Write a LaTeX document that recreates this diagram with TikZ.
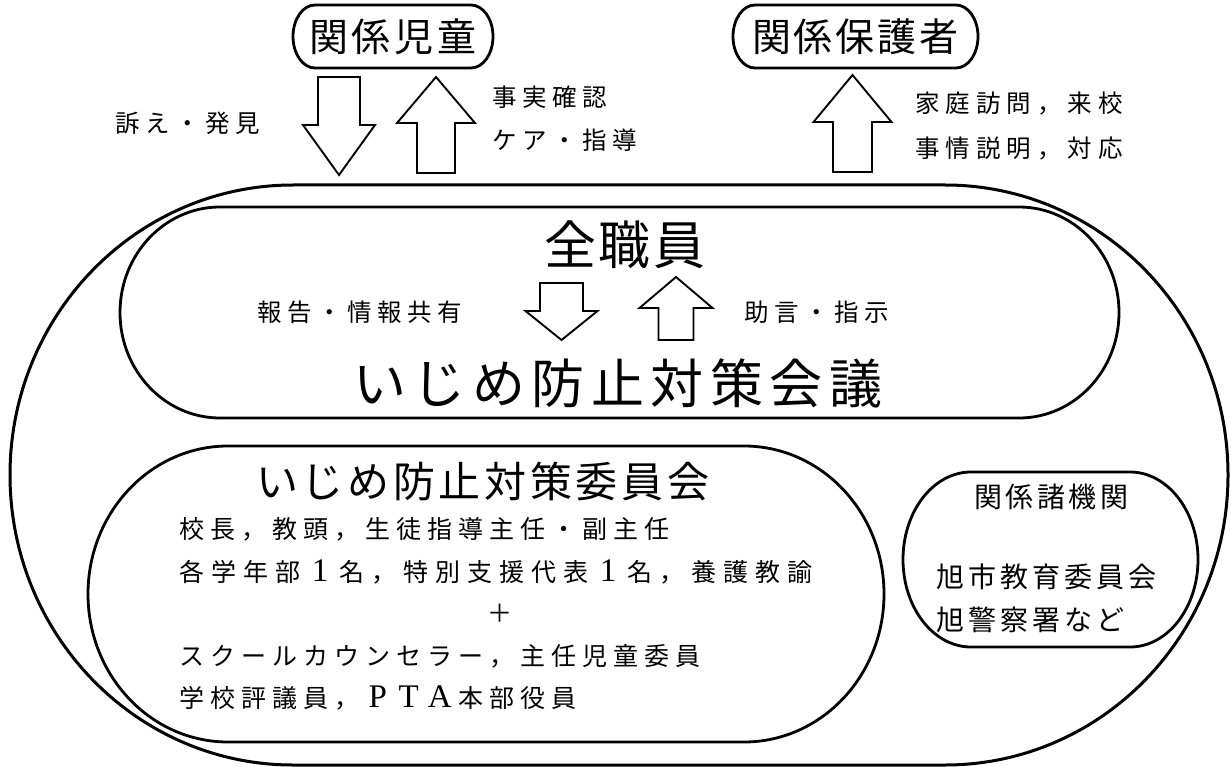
\documentclass[tikz,border=0pt]{standalone}
\usepackage{fontspec}
\newfontfamily\jp{Noto Sans CJK JP}
\newfontfamily\ser{Liberation Serif}
\newcommand\sr{\ser\fontsize{33}{33}\selectfont}
\makeatletter
\newcommand\spc[2]{\def\spc@w{#1}\@tfor\spc@c:=#2\do{\makebox[\spc@w][c]{\spc@c}}}
\makeatother
% stadium: [opts]{left}{top}{right}{bottom}{rx}{ry}  (pixel coords, y down)
\newcommand\stadium[7][]{\draw[#1] ({#2+#6},{-#3}) -- ({#4-#6},{-#3})
  arc[start angle=90,end angle=-90,x radius=#6pt,y radius=#7pt] -- ({#2+#6},{-#5})
  arc[start angle=270,end angle=90,x radius=#6pt,y radius=#7pt] -- cycle;}
% block arrow: [opts]{cx}{tail y}{head base y}{tip y}{shaft half}{head half}
\newcommand\barrow[7][]{\draw[#1] ({#2-#6},{-#3}) -- ({#2-#6},{-#4}) -- ({#2-#7},{-#4})
  -- (#2,{-#5}) -- ({#2+#7},{-#4}) -- ({#2+#6},{-#4}) -- ({#2+#6},{-#3}) -- cycle;}
\tikzset{
  box/.style={line width=2.8pt},
  outer/.style={line width=3pt},
  blk/.style={line width=1.9pt, line join=miter, fill=white},
  t23/.style={inner sep=0pt, font=\jp\fontsize{24.5}{28}\selectfont},
  t24/.style={inner sep=0pt, font=\jp\fontsize{25}{28}\selectfont},
  t27/.style={inner sep=0pt, font=\jp\fontsize{28}{30}\selectfont},
  t38/.style={inner sep=0pt, font=\jp\fontsize{39}{40}\selectfont},
  t41/.style={inner sep=0pt, font=\jp\fontsize{42}{44}\selectfont},
  t50/.style={inner sep=0pt, font=\jp\fontsize{52}{54}\selectfont},
  t52/.style={inner sep=0pt, font=\jp\fontsize{53}{56}\selectfont},
}
\begin{document}
\begin{tikzpicture}[x=1pt,y=1pt]
\useasboundingbox (0,0) rectangle (1231,-767);
% shapes
\stadium[outer]{10}{185}{1228}{765}{283}{290}
\stadium[box]{120}{207}{1119}{418}{100}{105.5}
\stadium[box]{88}{446}{884}{742}{140}{148}
\stadium[box]{903}{472}{1198}{647}{68}{87.5}
\stadium[box]{293}{5}{493}{68}{22}{31.5}
\stadium[box]{733}{5}{978}{68}{22}{31.5}
% block arrows
\barrow[blk]{339}{77}{125}{175}{21}{36}
\barrow[blk]{436}{173}{123}{77}{19}{39}
\barrow[blk]{852.5}{172}{122}{75}{19.5}{39}
\barrow[blk]{561.5}{283}{311}{340}{21.5}{36}
\barrow[blk]{676}{340}{308}{277}{17.5}{36.5}
% texts
\node[t38] (child) at (393,-36.5) {\spc{43pt}{関係児童}};
\node[t38] (parent) at (855.5,-36.5) {\spc{42pt}{関係保護者}};
\node[t23,anchor=west] (uttae) at (113,-123) {\spc{30pt}{訴え・発見}};
\node[t23,anchor=west] (jijitsu) at (490,-97) {\spc{30pt}{事実確認}};
\node[t23,anchor=west] (care) at (490,-140) {\spc{30pt}{ケア・指導}};
\node[t23,anchor=west] (katei) at (912,-104) {\spc{30.5pt}{家庭訪問，来校}};
\node[t23,anchor=west] (jijou) at (912,-148) {\spc{30.5pt}{事情説明，対応}};
\node[t50] (zen) at (625,-245) {\spc{55pt}{全職員}};
\node[t23,anchor=west] (houkoku) at (255,-312) {\spc{30pt}{報告・情報共有}};
\node[t23,anchor=west] (jogen) at (742,-312) {\spc{30pt}{助言・指示}};
\node[t52] (kaigi) at (618,-383) {\spc{59.5pt}{いじめ防止対策会議}};
\node[t41,anchor=west] (iinkai) at (254,-482) {\spc{45.7pt}{いじめ防止対策委員会}};
\node[t24,anchor=west] (m1) at (176,-529) {\spc{31pt}{校長，教頭，生徒指導主任・副主任}};
\node[t24,anchor=west] (m2) at (176,-572) {\spc{32pt}{各学年部{\sr 1}名，特別支援代表{\sr 1}名，養護教諭}};
\node[t24] (plus) at (500,-613) {＋};
\node[t24,anchor=west] (m3) at (176,-656) {\spc{31pt}{スクールカウンセラー，主任児童委員}};
\node[t24,anchor=west] (m4) at (176,-698) {\spc{31pt}{学校評議員，{\sr P}{\sr T}{\sr A}本部役員}};
\node[t27] (kikan) at (1051,-497) {\spc{31.5pt}{関係諸機関}};
\node[t27,anchor=west] (kyoiku) at (934,-577) {\spc{32pt}{旭市教育委員会}};
\node[t27,anchor=west] (keisatsu) at (934,-620) {\spc{32pt}{旭警察署など}};
\end{tikzpicture}
\end{document}
